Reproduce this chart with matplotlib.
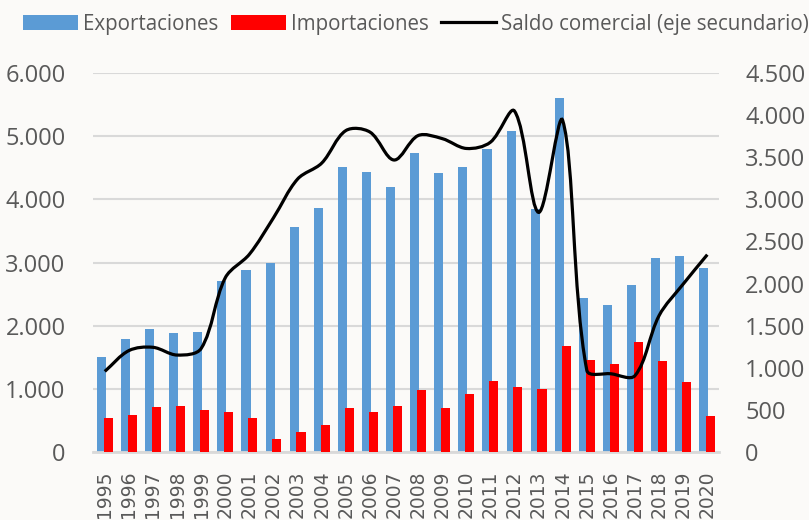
import numpy as np
import matplotlib.pyplot as plt
from matplotlib.path import Path
from matplotlib.patches import PathPatch
from matplotlib.ticker import FuncFormatter

years = [str(y) for y in range(1995, 2021)]
exportaciones = [1500, 1790, 1950, 1884, 1900, 2707, 2881, 2987, 3562, 3857, 4517, 4427, 4200,
                 4738, 4412, 4517, 4797, 5082, 3842, 5609, 2433, 2327, 2644, 3066, 3098, 2913]
importaciones = [543, 586, 707, 733, 670, 638, 533, 206, 321, 427, 701, 628, 733,
                 981, 691, 913, 1119, 1034, 997, 1673, 1462, 1398, 1737, 1446, 1104, 570]
saldo = [957, 1204, 1243, 1151, 1230, 2069, 2348, 2781, 3241, 3430, 3816, 3799, 3467,
         3757, 3721, 3604, 3678, 4048, 2845, 3936, 971, 929, 907, 1620, 1994, 2343]

bg = '#fbfaf8'
grey = '#595959'
plt.rcParams['font.family'] = ['Open Sans', 'DejaVu Sans']

fig = plt.figure(figsize=(8.09, 5.2), dpi=100, facecolor=bg)
ax = fig.add_axes([92.75 / 809, 68 / 520, 626.6 / 809, 379 / 520])
ax.set_facecolor(bg)

x = np.arange(len(years))
ax.bar(x - 0.141, exportaciones, width=0.38, color='#5b9bd5', label='Exportaciones', zorder=2)
ax.bar(x + 0.141, importaciones, width=0.38, color='#ff0000', label='Importaciones', zorder=3)

ax.set_xlim(-0.5, len(years) - 0.5)
ax.set_ylim(0, 6000)
ax.set_yticks(range(0, 6001, 1000))
ax.yaxis.grid(True, color='#d9d9d9', linewidth=1.5)
ax.set_axisbelow(True)
fmt = FuncFormatter(lambda v, p: f"{v:,.0f}".replace(",", "."))
ax.yaxis.set_major_formatter(fmt)
ax.set_xticks(x)
ax.set_xticklabels(years, rotation=90, fontsize=13.5, color=grey, family='DejaVu Sans')
ax.tick_params(axis='x', length=0, pad=13)
ax.tick_params(axis='y', length=0, pad=19.5, labelsize=17, labelcolor=grey)
for s in ['top', 'left', 'right']:
    ax.spines[s].set_visible(False)
ax.spines['bottom'].set_color('#d9d9d9')
ax.spines['bottom'].set_linewidth(2)

ax2 = ax.twinx()
ax2.set_ylim(0, 4500)
ax2.set_yticks(range(0, 4501, 500))
ax2.yaxis.set_major_formatter(fmt)
ax2.tick_params(axis='y', length=0, pad=18.5, labelsize=17, labelcolor=grey)
for s in ax2.spines.values():
    s.set_visible(False)

# curva suavizada: tangentes proporcionales a la longitud de los tramos (en pixeles)
sx, sy = 24.1, 379 / 4500
pts = np.column_stack([x * sx, np.array(saldo) * sy]).astype(float)
n = len(pts)
out_c, in_c = [], []
for i in range(n):
    a = pts[max(i - 1, 0)]
    b = pts[min(i + 1, n - 1)]
    d0 = np.hypot(*(pts[i] - a))
    d1 = np.hypot(*(b - pts[i]))
    t = b - a
    tot = d0 + d1 if d0 + d1 > 0 else 1
    out_c.append(pts[i] + t * d1 / tot / 3)
    in_c.append(pts[i] - t * d0 / tot / 3)
verts = [pts[0]]
codes = [Path.MOVETO]
for i in range(n - 1):
    verts += [out_c[i], in_c[i + 1], pts[i + 1]]
    codes += [Path.CURVE4] * 3
verts = np.array(verts) / [sx, sy]
ax2.add_patch(PathPatch(Path(verts, codes), fill=False, edgecolor='black',
                        linewidth=2.3, zorder=4))
line_handle, = ax2.plot([], [], color='black', linewidth=2.3)

h1, l1 = ax.get_legend_handles_labels()
fig.legend(h1 + [line_handle], l1 + ['Saldo comercial (eje secundario)'],
           loc='center left', bbox_to_anchor=(13 / 809, 1 - 24 / 520), ncol=3,
           frameon=False, fontsize=14.8, labelcolor=grey, handlelength=2.68,
           handleheight=0.78, handletextpad=0.24, columnspacing=0.59, borderpad=0)

fig.savefig('out.png', dpi=100, facecolor=bg)
